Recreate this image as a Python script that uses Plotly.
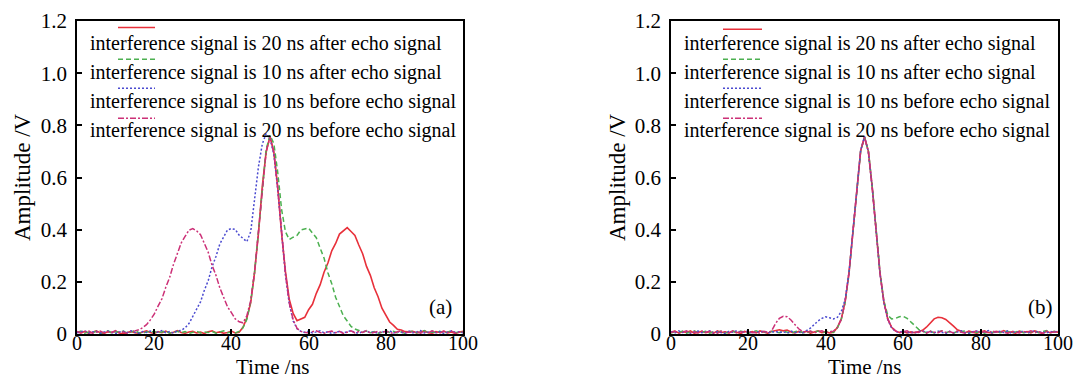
import plotly.graph_objects as go

# ---------------- data ----------------
time_ns = list(range(0, 101))  # sampling grid, 1 ns

series_names = [
    "interference signal is 20 ns after echo signal",
    "interference signal is 10 ns after echo signal",
    "interference signal is 10 ns before echo signal",
    "interference signal is 20 ns before echo signal",
]

# panel (a): before suppression
a_after20 = [
    0.008, 0.004, 0.010, 0.003, 0.007, 0.012, 0.005, 0.002, 0.009, 0.006,
    0.011, 0.004, 0.001, 0.007, 0.010, 0.005, 0.003, 0.008, 0.012, 0.006,
    0.002, 0.009, 0.005, 0.011, 0.004, 0.007, 0.013, 0.006, 0.003, 0.008,
    0.010, 0.004, 0.007, 0.002, 0.009, 0.012, 0.005, 0.008, 0.003, 0.006,
    0.011, 0.004, 0.007, 0.026, 0.061, 0.119, 0.236, 0.384, 0.566, 0.697,
    0.758, 0.695, 0.564, 0.386, 0.240, 0.132, 0.079, 0.051, 0.058, 0.064,
    0.093, 0.114, 0.156, 0.189, 0.237, 0.272, 0.319, 0.347, 0.383, 0.394,
    0.408, 0.393, 0.378, 0.341, 0.308, 0.259, 0.225, 0.177, 0.143, 0.099,
    0.074, 0.046, 0.033, 0.018, 0.015, 0.009, 0.008, 0.010, 0.004, 0.008,
    0.012, 0.005, 0.003, 0.009, 0.006, 0.011, 0.004, 0.008, 0.002, 0.007,
    0.010,
]
a_after10 = [
    0.006, 0.011, 0.003, 0.008, 0.005, 0.010, 0.002, 0.007, 0.012, 0.004,
    0.009, 0.006, 0.011, 0.003, 0.008, 0.013, 0.005, 0.002, 0.009, 0.007,
    0.010, 0.004, 0.008, 0.012, 0.003, 0.006, 0.010, 0.005, 0.009, 0.002,
    0.007, 0.011, 0.004, 0.008, 0.006, 0.010, 0.003, 0.009, 0.012, 0.005,
    0.008, 0.004, 0.010, 0.024, 0.056, 0.124, 0.236, 0.392, 0.566, 0.708,
    0.762, 0.730, 0.620, 0.478, 0.392, 0.362, 0.371, 0.378, 0.399, 0.404,
    0.406, 0.387, 0.369, 0.329, 0.291, 0.235, 0.193, 0.141, 0.107, 0.070,
    0.050, 0.029, 0.019, 0.012, 0.008, 0.011, 0.005, 0.009, 0.003, 0.007,
    0.012, 0.006, 0.010, 0.004, 0.008, 0.002, 0.009, 0.011, 0.005, 0.007,
    0.013, 0.004, 0.008, 0.006, 0.010, 0.003, 0.009, 0.012, 0.005, 0.008,
    0.006,
]
a_before10 = [
    0.005, 0.009, 0.012, 0.004, 0.007, 0.010, 0.003, 0.008, 0.011, 0.006,
    0.002, 0.008, 0.010, 0.005, 0.012, 0.007, 0.003, 0.009, 0.006, 0.011,
    0.004, 0.008, 0.013, 0.005, 0.009, 0.003, 0.012, 0.014, 0.024, 0.040,
    0.066, 0.096, 0.123, 0.168, 0.205, 0.258, 0.297, 0.345, 0.371, 0.399,
    0.404, 0.401, 0.379, 0.366, 0.354, 0.392, 0.520, 0.640, 0.728, 0.768,
    0.748, 0.690, 0.556, 0.384, 0.228, 0.116, 0.050, 0.020, 0.010, 0.006,
    0.011, 0.004, 0.008, 0.012, 0.005, 0.009, 0.002, 0.007, 0.010, 0.004,
    0.008, 0.013, 0.006, 0.003, 0.009, 0.011, 0.005, 0.008, 0.002, 0.010,
    0.006, 0.012, 0.004, 0.009, 0.007, 0.003, 0.011, 0.005, 0.008, 0.013,
    0.004, 0.007, 0.010, 0.005, 0.009, 0.002, 0.008, 0.012, 0.006, 0.009,
    0.005,
]
a_before20 = [
    0.010, 0.005, 0.008, 0.012, 0.003, 0.007, 0.011, 0.004, 0.009, 0.006,
    0.013, 0.005, 0.008, 0.002, 0.010, 0.012, 0.016, 0.024, 0.036, 0.054,
    0.076, 0.107, 0.135, 0.179, 0.217, 0.267, 0.305, 0.349, 0.374, 0.398,
    0.404, 0.395, 0.381, 0.345, 0.313, 0.263, 0.225, 0.177, 0.144, 0.104,
    0.082, 0.058, 0.047, 0.043, 0.070, 0.128, 0.236, 0.390, 0.562, 0.700,
    0.754, 0.698, 0.558, 0.386, 0.230, 0.118, 0.054, 0.022, 0.010, 0.007,
    0.004, 0.009, 0.012, 0.006, 0.003, 0.008, 0.011, 0.005, 0.010, 0.002,
    0.007, 0.012, 0.004, 0.009, 0.006, 0.013, 0.003, 0.008, 0.010, 0.005,
    0.011, 0.006, 0.002, 0.009, 0.012, 0.004, 0.008, 0.006, 0.010, 0.003,
    0.009, 0.005, 0.012, 0.007, 0.004, 0.010, 0.006, 0.011, 0.003, 0.008,
    0.006,
]

# panel (b): after suppression
b_after20 = [
    0.007, 0.011, 0.004, 0.009, 0.006, 0.012, 0.003, 0.008, 0.010, 0.005,
    0.009, 0.003, 0.012, 0.006, 0.008, 0.004, 0.011, 0.007, 0.002, 0.010,
    0.006, 0.009, 0.004, 0.012, 0.007, 0.003, 0.010, 0.013, 0.016, 0.012,
    0.015, 0.008, 0.004, 0.010, 0.006, 0.011, 0.003, 0.008, 0.012, 0.005,
    0.009, 0.004, 0.007, 0.026, 0.058, 0.124, 0.234, 0.390, 0.562, 0.702,
    0.756, 0.700, 0.562, 0.390, 0.234, 0.124, 0.058, 0.026, 0.012, 0.006,
    0.010, 0.004, 0.008, 0.005, 0.009, 0.014, 0.026, 0.044, 0.058, 0.064,
    0.062, 0.056, 0.044, 0.030, 0.016, 0.009, 0.005, 0.011, 0.007, 0.003,
    0.009, 0.012, 0.006, 0.004, 0.010, 0.007, 0.013, 0.005, 0.008, 0.003,
    0.011, 0.006, 0.009, 0.004, 0.012, 0.007, 0.002, 0.010, 0.005, 0.009,
    0.007,
]
b_after10 = [
    0.004, 0.009, 0.006, 0.011, 0.003, 0.008, 0.012, 0.005, 0.007, 0.010,
    0.003, 0.009, 0.006, 0.012, 0.004, 0.008, 0.010, 0.005, 0.011, 0.007,
    0.002, 0.008, 0.012, 0.006, 0.009, 0.004, 0.010, 0.007, 0.005, 0.011,
    0.008, 0.003, 0.009, 0.012, 0.006, 0.004, 0.010, 0.007, 0.011, 0.005,
    0.008, 0.012, 0.006, 0.024, 0.056, 0.122, 0.232, 0.388, 0.560, 0.700,
    0.754, 0.702, 0.566, 0.394, 0.238, 0.128, 0.072, 0.058, 0.060, 0.066,
    0.068, 0.060, 0.046, 0.030, 0.018, 0.010, 0.006, 0.011, 0.004, 0.008,
    0.012, 0.005, 0.009, 0.003, 0.010, 0.007, 0.013, 0.004, 0.008, 0.006,
    0.011, 0.003, 0.009, 0.006, 0.012, 0.005, 0.008, 0.010, 0.004, 0.007,
    0.012, 0.006, 0.003, 0.009, 0.011, 0.005, 0.008, 0.013, 0.004, 0.010,
    0.006,
]
b_before10 = [
    0.009, 0.004, 0.012, 0.006, 0.010, 0.003, 0.008, 0.011, 0.005, 0.007,
    0.012, 0.004, 0.009, 0.006, 0.002, 0.010, 0.007, 0.013, 0.005, 0.008,
    0.011, 0.003, 0.009, 0.006, 0.012, 0.004, 0.008, 0.010, 0.005, 0.009,
    0.003, 0.011, 0.006, 0.008, 0.004, 0.012, 0.022, 0.036, 0.050, 0.060,
    0.066, 0.062, 0.058, 0.064, 0.086, 0.132, 0.236, 0.392, 0.564, 0.704,
    0.756, 0.698, 0.560, 0.388, 0.232, 0.122, 0.056, 0.024, 0.010, 0.006,
    0.011, 0.005, 0.008, 0.003, 0.010, 0.012, 0.006, 0.009, 0.004, 0.011,
    0.007, 0.002, 0.010, 0.005, 0.008, 0.012, 0.006, 0.003, 0.009, 0.011,
    0.005, 0.008, 0.013, 0.004, 0.007, 0.010, 0.006, 0.012, 0.003, 0.009,
    0.006, 0.011, 0.004, 0.008, 0.012, 0.005, 0.009, 0.003, 0.010, 0.007,
    0.012,
]
b_before20 = [
    0.006, 0.010, 0.003, 0.008, 0.012, 0.005, 0.009, 0.004, 0.011, 0.007,
    0.010, 0.006, 0.003, 0.011, 0.008, 0.005, 0.012, 0.004, 0.009, 0.007,
    0.011, 0.005, 0.008, 0.003, 0.010, 0.006, 0.012, 0.040, 0.060, 0.068,
    0.066, 0.054, 0.036, 0.020, 0.010, 0.006, 0.011, 0.004, 0.009, 0.012,
    0.005, 0.008, 0.011, 0.025, 0.056, 0.124, 0.236, 0.390, 0.562, 0.702,
    0.754, 0.700, 0.560, 0.390, 0.234, 0.124, 0.058, 0.026, 0.012, 0.005,
    0.009, 0.012, 0.004, 0.008, 0.006, 0.011, 0.003, 0.010, 0.007, 0.005,
    0.012, 0.006, 0.009, 0.004, 0.011, 0.008, 0.003, 0.010, 0.006, 0.013,
    0.005, 0.009, 0.004, 0.012, 0.007, 0.010, 0.006, 0.003, 0.011, 0.008,
    0.004, 0.010, 0.007, 0.012, 0.005, 0.009, 0.003, 0.011, 0.006, 0.008,
    0.010,
]

x_tickvals = [0, 20, 40, 60, 80, 100]
x_ticktext = ["0", "20", "40", "60", "80", "100"]
y_tickvals = [0, 0.2, 0.4, 0.6, 0.8, 1.0, 1.2]
y_ticktext = ["0", "0.2", "0.4", "0.6", "0.8", "1.0", "1.2"]
panel_labels = ["(a)", "(b)"]
x_title = "Time /ns"
y_title = "Amplitude /V"

# ---------------- styling ----------------
W, H = 1073, 378
ML, MR, MT, MB = 77, 15, 21, 44
PW, PH = W - ML - MR, H - MT - MB
FONT = "Liberation Serif, Times New Roman, serif"

styles = [
    dict(color="#e8303a", width=1.6, dash="solid"),
    dict(color="#4cb050", width=1.5, dash="5px,3px"),
    dict(color="#4a4ad0", width=1.5, dash="2px,2px"),
    dict(color="#cc3077", width=1.5, dash="6px,2px,2px,2px"),
]


def px(xp):
    return (xp - ML) / PW


def py(yp):
    return (MT + PH - yp) / PH


fig = go.Figure()
panels = [
    ([a_after20, a_after10, a_before10, a_before20], "x", "y"),
    ([b_after20, b_after10, b_before10, b_before20], "x2", "y2"),
]
for series, xa, ya in panels:
    for name, vals, st in zip(series_names, series, styles):
        fig.add_trace(go.Scatter(
            x=time_ns, y=vals, mode="lines", name=name, showlegend=False,
            line=dict(color=st["color"], width=st["width"], dash=st["dash"]),
            xaxis=xa, yaxis=ya,
        ))

axis_common = dict(
    showline=True, linecolor="black", linewidth=1.5, mirror=True,
    ticks="inside", ticklen=5, tickwidth=1.5, tickcolor="black",
    showgrid=False, zeroline=False, automargin=False,
    tickfont=dict(family=FONT, size=21, color="black"),
)
xa_common = dict(axis_common, range=[0, 100], tickvals=x_tickvals, showticklabels=False)
ya_common = dict(axis_common, range=[0, 1.2], tickvals=y_tickvals, ticktext=y_ticktext,
                 ticklabelstandoff=4)

dom_a = [0, px(463)]
dom_b = [px(671), 1]
fig.update_layout(
    width=W, height=H,
    margin=dict(l=ML, r=MR, t=MT, b=MB, autoexpand=False),
    paper_bgcolor="white", plot_bgcolor="white",
    xaxis=dict(xa_common, domain=dom_a, anchor="y"),
    yaxis=dict(ya_common, domain=[0, 1], anchor="x"),
    xaxis2=dict(xa_common, domain=dom_b, anchor="y2"),
    yaxis2=dict(ya_common, domain=[0, 1], anchor="x2"),
)

# x tick labels (placed just under the frame, as in the reference)
for xref in ("x", "x2"):
    for v, t in zip(x_tickvals, x_ticktext):
        fig.add_annotation(x=v, y=py(343), xref=xref, yref="paper", text=t,
                           showarrow=False, xanchor="center", yanchor="middle",
                           font=dict(family=FONT, size=20, color="black"))

# axis titles
for cx in (272, 864):
    fig.add_annotation(x=px(cx), y=py(366.5), xref="paper", yref="paper", text=x_title,
                       showarrow=False, xanchor="center", yanchor="middle",
                       font=dict(family=FONT, size=21, color="black"))
for cx in (22, 617):
    fig.add_annotation(x=px(cx), y=py(177), xref="paper", yref="paper", text=y_title,
                       showarrow=False, xanchor="center", yanchor="middle", textangle=-90,
                       font=dict(family=FONT, size=23, color="black"))

# legend rows (sample line above each text line), drawn as annotations/shapes
text_y = [43, 72, 101.5, 130]
sample_y = [[27.5, 59.3, 88.3, 118.3], [29.3, 59.3, 88.3, 118.3]]
text_x = [88, 682]
sample_x = [(118, 155), (723, 762)]
for p in range(2):
    for i, name in enumerate(series_names):
        fig.add_annotation(
            x=px(text_x[p]), y=py(text_y[i]), xref="paper", yref="paper",
            text=name, showarrow=False, xanchor="left", yanchor="middle",
            font=dict(family=FONT, size=20, color="black"),
        )
        st = styles[i]
        fig.add_shape(
            type="line", xref="paper", yref="paper",
            x0=px(sample_x[p][0]), x1=px(sample_x[p][1]),
            y0=py(sample_y[p][i]), y1=py(sample_y[p][i]),
            line=dict(color=st["color"], width=st["width"], dash=st["dash"]),
        )

label_pos = [(440, 306.5), (1040, 306.5)]
for lab, (lx, ly) in zip(panel_labels, label_pos):
    fig.add_annotation(
        x=px(lx), y=py(ly), xref="paper", yref="paper", text=lab,
        showarrow=False, xanchor="center", yanchor="middle",
        font=dict(family=FONT, size=21, color="black"),
    )

fig.write_html("out.html")
